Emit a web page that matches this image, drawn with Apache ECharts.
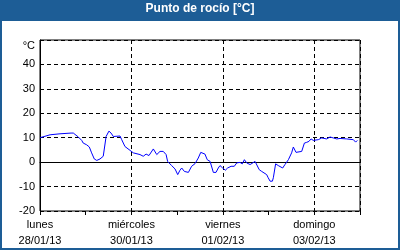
<!DOCTYPE html>
<html>
<head>
<meta charset="utf-8">
<script src="https://cdn.jsdelivr.net/npm/echarts@6/dist/echarts.min.js"></script>
<style>
html,body{margin:0;padding:0;background:#fff;}
#c{width:400px;height:250px;}
</style>
</head>
<body>
<div id="c"></div>
<script>
// Hours since Monday 28/01/13 00:00
const hours = [0,5.3,10.5,16.3,17.5,20.1,21,21.9,22.7,24.5,25.9,27.1,28.5,29.8,31.5,32.4,33.2,34.7,36.2,37.3,38.5,42,42.9,44.6,47.3,49,49.9,52.5,54.2,55.7,57.2,59.5,60,61.3,63,64.7,66.2,67,69.1,70.9,72.3,73.5,74.4,75.8,77.9,79.6,81.4,83.1,84.4,85.4,86.6,87.8,89.3,91,92.4,93.6,94.5,95.9,97.3,98.5,100.3,102,103.3,105,106.2,107.3,108.5,110.3,111.2,112.9,113.8,115.1,116.4,119,119.8,120.8,122,122.5,123.7,125.1,127.4,128.6,130.4,132.1,133,134.4,137.4,138.8,140,141.2,142.3,143.5,146.1,147.9,150.5,152.3,154,155.8,157.5,161,164.5,165.7,166.6];
const dewPoint = [10,11.2,11.6,11.9,11.9,10.3,9.7,8.9,7.8,7.1,6.2,3.8,1.3,0.7,1.3,1.0,2.4,10.5,12.7,11.9,10.5,10.7,9.2,6.4,4.8,3.8,3.3,3.1,2.4,3.3,2.7,5.4,5.8,3.1,4.4,4.4,3.1,0.3,-1.4,-2.8,-5.1,-3.3,-2.4,-3.8,-4.2,-1.7,-0.6,1.7,4.0,4.7,3.3,1.0,0.3,-4.2,-4.2,-2.4,-1.4,-2.4,-3.3,-2.4,-1.7,-1.7,-0.3,-0.1,-0.7,1.0,-0.3,-1.0,-0.3,0.3,-0.1,-3.1,-3.8,-5.1,-6.4,-7.8,-7.8,-6.4,-0.7,-1.4,-2.4,-1.0,1.0,3.8,6.2,4.0,4.4,7.8,8.1,8.5,9.5,8.9,9.2,9.9,9.5,10.3,9.9,9.5,9.7,9.5,9.2,8.2,8.9];
const tickHours = [0,48,96,144];
const dayNames = ['lunes','miércoles','viernes','domingo'];
const dayDates = ['28/01/13','30/01/13','01/02/13','03/02/13'];
const yTicks = [-20,-10,0,10,20,30,40];
const unitLabel = '°C';
const titleText = 'Punto de rocío [°C]';

const FONT = "'Liberation Sans', Arial, sans-serif";
const chart = echarts.init(document.getElementById('c'), null, {renderer:'canvas'});
const data = hours.map((h,i)=>[h, dewPoint[i]]);
chart.setOption({
  animation:false,
  backgroundColor:'#ffffff',
  graphic:[
    {type:'rect', z:-10, shape:{x:1,y:1,width:398,height:248}, style:{fill:'#ffffff', stroke:'#1d5d96', lineWidth:2}},
    {type:'rect', z:-9, shape:{x:0,y:0,width:400,height:21}, style:{fill:'#1d5d96'}}
  ],
  title:{
    text:titleText, left:'center', top:3, padding:0,
    textStyle:{color:'#ffffff', fontFamily:FONT, fontSize:12, fontWeight:'bold'}
  },
  grid:{left:40, right:40, top:40, bottom:39, show:true, borderColor:'#000', borderWidth:1, backgroundColor:'transparent'},
  xAxis:[{
    type:'value', min:0, max:168, interval:48,
    axisLine:{show:true, lineStyle:{color:'#000'}},
    axisTick:{show:false},
    splitLine:{show:true, lineStyle:{color:'#000', type:[4,3], width:1}},
    axisLabel:{
      show:true, margin:6, color:'#000', fontFamily:FONT, fontSize:11, lineHeight:16,
      showMaxLabel:false,
      formatter:function(v){ const i = tickHours.indexOf(v); return i>=0 ? dayNames[i]+'\n'+dayDates[i] : ''; }
    }
  },{
    type:'value', min:0, max:168, interval:24, position:'bottom',
    axisLine:{show:false},
    axisTick:{show:true, length:4, lineStyle:{color:'#000'}},
    axisLabel:{show:false},
    splitLine:{show:false}
  }],
  yAxis:{
    type:'value', min:-20, max:50, interval:10,
    axisLine:{show:true, lineStyle:{color:'#000'}},
    axisTick:{show:false},
    splitLine:{show:true, lineStyle:{color:'#000', type:[4,3], width:1}},
    axisLabel:{
      margin:5, color:'#000', fontFamily:FONT, fontSize:11,
      formatter:function(v){ return yTicks.indexOf(v)>=0 ? String(v) : (v===50 ? '{u|'+unitLabel+'}' : ''); },
      rich:{u:{color:'#000', fontFamily:FONT, fontSize:11, padding:[12,0,0,0]}}
    }
  },
  series:[{
    type:'line', xAxisIndex:0, data:data, showSymbol:false, symbol:'none',
    lineStyle:{color:'#0000ff', width:1}, z:5
  }]
});
</script>
</body>
</html>
